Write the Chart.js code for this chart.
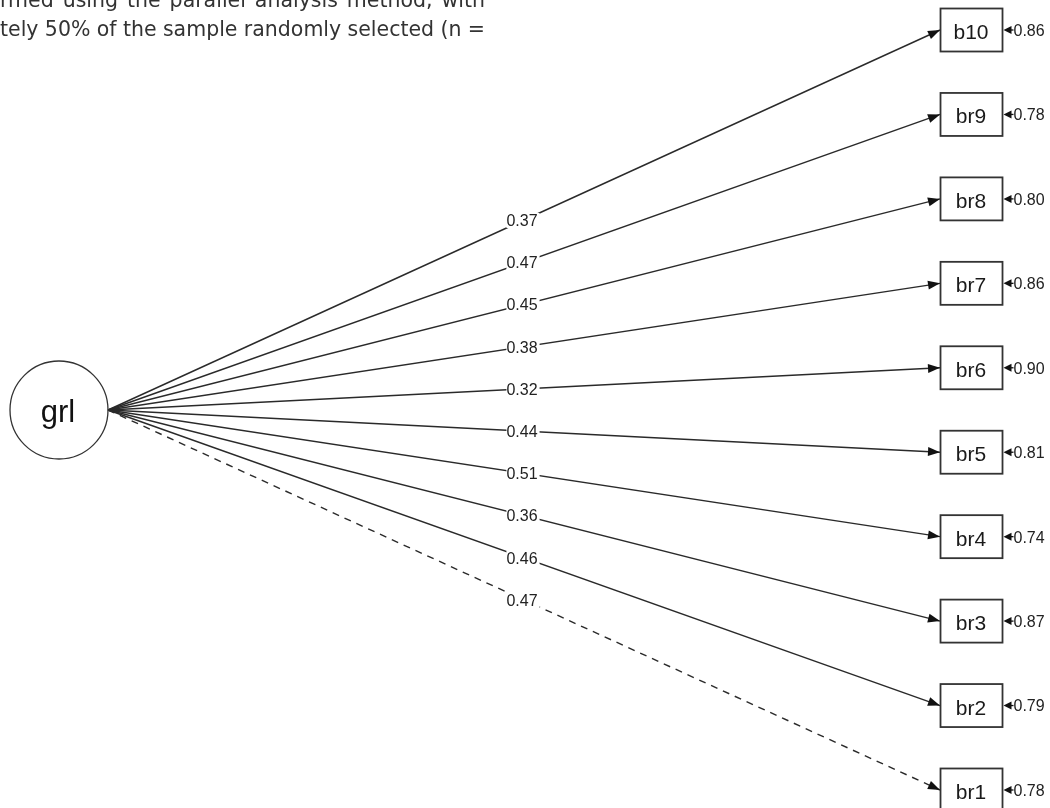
<!DOCTYPE html>
<html>
<head>
<meta charset="utf-8">
<title>grl path diagram</title>
<script src="https://cdn.jsdelivr.net/npm/chart.js@4.4.1/dist/chart.umd.min.js"></script>
<style>
  body { margin: 0; background: #fff; }
  #wrap { position: relative; width: 1050px; height: 808px; }
</style>
</head>
<body>
<div id="wrap"><canvas id="myChart"></canvas></div>
<script>
// indicators, listed bottom (br1) to top (b10)
const items = ["br1", "br2", "br3", "br4", "br5", "br6", "br7", "br8", "br9", "b10"];
const loadings = [0.47, 0.46, 0.36, 0.51, 0.44, 0.32, 0.38, 0.45, 0.47, 0.37];
const residuals = [0.78, 0.79, 0.87, 0.74, 0.81, 0.90, 0.86, 0.80, 0.78, 0.86];
const latentName = "grl";
const fixedItem = "br1"; // first loading fixed -> dashed
const paragraph = [
  "rmed using the parallel analysis method, with",
  "tely 50% of the sample randomly selected (n ="
];

// x: 0 = right edge of the latent circle, 1 = left edge of the item boxes
// y: item index (1 = bottom), latent sits in the middle
const latentY = (items.length + 1) / 2;

const datasets = items.map((name, i) => ({
  label: name,
  data: [{ x: 0, y: latentY }, { x: 1, y: i + 1 }],
  showLine: true,
  borderColor: "#2a2a2a",
  borderWidth: 1.4,
  borderDash: name === fixedItem ? [7, 6] : [],
  pointRadius: 0,
  pointHoverRadius: 0,
  fill: false
}));

function arrowHead(ctx, x, y, ang, len, half) {
  ctx.beginPath();
  ctx.moveTo(x, y);
  ctx.lineTo(x - len * Math.cos(ang) + half * Math.sin(ang), y - len * Math.sin(ang) - half * Math.cos(ang));
  ctx.lineTo(x - len * Math.cos(ang) - half * Math.sin(ang), y - len * Math.sin(ang) + half * Math.cos(ang));
  ctx.closePath();
  ctx.fill();
}

const pathDiagram = {
  id: "pathDiagram",
  afterDatasetsDraw(chart) {
    const ctx = chart.ctx;
    const xs = chart.scales.x, ys = chart.scales.y;
    const x0 = xs.getPixelForValue(0);
    const x1 = xs.getPixelForValue(1);
    const yl = ys.getPixelForValue(latentY);
    const r = 49, bw = 62, bh = 43;
    ctx.save();

    // latent node
    ctx.strokeStyle = "#333";
    ctx.lineWidth = 1.3;
    ctx.beginPath();
    ctx.arc(x0 - r, yl, r, 0, Math.PI * 2);
    ctx.stroke();
    ctx.fillStyle = "#111";
    ctx.font = "31px 'Liberation Sans', Arial, sans-serif";
    ctx.textAlign = "center";
    ctx.textBaseline = "middle";
    ctx.fillText(latentName, x0 - r - 1, yl + 3);

    items.forEach((name, i) => {
      const yb = ys.getPixelForValue(i + 1);

      // arrowhead into the box
      ctx.fillStyle = "#111";
      arrowHead(ctx, x1, yb, Math.atan2(yb - yl, x1 - x0), 12, 4.5);

      // loading label on the path
      const mx = (x0 + x1) / 2, my = (yl + yb) / 2;
      const txt = loadings[i].toFixed(2);
      ctx.font = "16px 'Liberation Sans', Arial, sans-serif";
      const tw = ctx.measureText(txt).width;
      ctx.fillStyle = "#fff";
      ctx.fillRect(mx - tw / 2 - 2, my - 7, tw + 2, 15);
      ctx.fillStyle = "#222";
      ctx.textAlign = "center";
      ctx.textBaseline = "middle";
      ctx.fillText(txt, mx - 2, my + 1.5);

      // item box
      ctx.strokeStyle = "#333";
      ctx.lineWidth = 1.8;
      ctx.strokeRect(x1 + 0.5, yb - bh / 2, bw, bh);
      ctx.fillStyle = "#1a1a1a";
      ctx.font = "21px 'Liberation Sans', Arial, sans-serif";
      ctx.textAlign = "center";
      ctx.textBaseline = "alphabetic";
      ctx.fillText(name, x1 + bw / 2, yb + 9);

      // residual arrow + value
      const rx = x1 + bw + 1.5;
      ctx.strokeStyle = "#111";
      ctx.lineWidth = 1.3;
      ctx.beginPath();
      ctx.moveTo(rx + 10, yb);
      ctx.lineTo(rx + 5, yb);
      ctx.stroke();
      ctx.fillStyle = "#111";
      arrowHead(ctx, rx, yb, Math.PI, 8, 4);
      ctx.fillStyle = "#222";
      ctx.font = "16px 'Liberation Sans', Arial, sans-serif";
      ctx.textAlign = "left";
      ctx.textBaseline = "middle";
      ctx.fillText(residuals[i].toFixed(2), rx + 10, yb + 1.5);
    });
    ctx.restore();
  },
  afterDraw(chart) {
    // fragment of the surrounding article text, justified to 485px
    const ctx = chart.ctx;
    ctx.save();
    ctx.fillStyle = "#333";
    ctx.font = "20.5px 'DejaVu Sans', Verdana, sans-serif";
    ctx.textBaseline = "alphabetic";
    ctx.textAlign = "left";
    const width = 485;
    paragraph.forEach((line, k) => {
      const words = line.split(" ");
      const sum = words.reduce((s, w) => s + ctx.measureText(w).width, 0);
      const gap = (width - sum) / (words.length - 1);
      let x = 0;
      words.forEach(w => {
        ctx.fillText(w, x, 7 + k * 29);
        x += ctx.measureText(w).width + gap;
      });
    });
    ctx.restore();
  }
};

const config = {
  type: "scatter",
  data: { datasets: datasets },
  options: {
    responsive: true,
    maintainAspectRatio: false,
    animation: false,
    events: [],
    layout: { padding: 0 },
    scales: {
      x: { type: "linear", display: false, min: -0.1298, max: 1.1322 },
      y: { type: "linear", display: false, min: 0.7868, max: 10.3553 }
    },
    plugins: {
      legend: { display: false },
      tooltip: { enabled: false }
    }
  },
  plugins: [pathDiagram]
};

var ctx = document.getElementById("myChart").getContext("2d");
var myChart = new Chart(ctx, config);
</script>
</body>
</html>
